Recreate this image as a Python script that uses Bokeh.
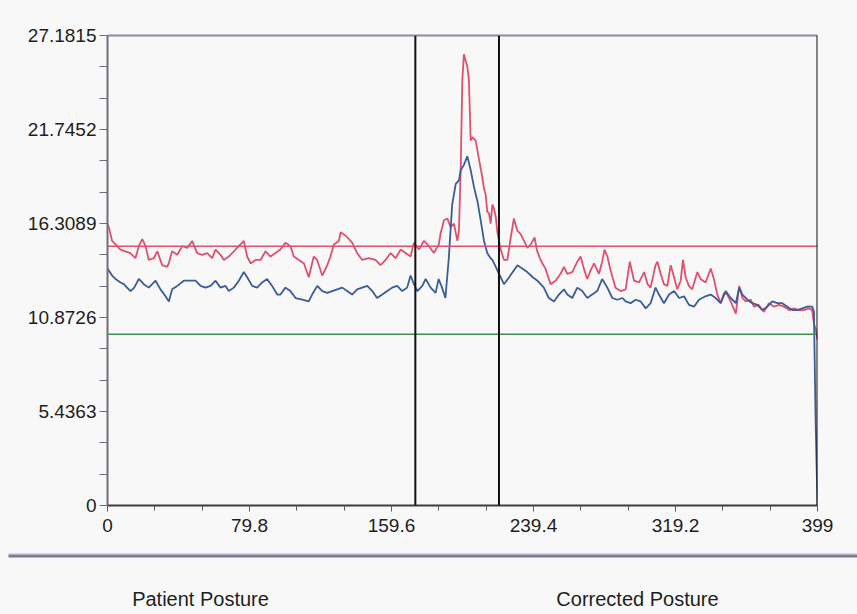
from bokeh.plotting import figure
from bokeh.models import Range1d, FixedTicker, LinearAxis, Span, Label
from bokeh.layouts import column
from bokeh.embed import file_html
from bokeh.resources import INLINE

# ---------------- data ----------------
y_ticks = [0, 5.4363, 10.8726, 16.3089, 21.7452, 27.1815]
y_labels = ["0", "5.4363", "10.8726", "16.3089", "21.7452", "27.1815"]
x_ticks = [0, 79.8, 159.6, 239.4, 319.2, 399]
x_labels = ["0", "79.8", "159.6", "239.4", "319.2", "399"]

red_x = [0, 1, 2.6, 4.5, 7.3, 10, 12.8, 15.7, 17.6, 19.5, 21.4, 23.2, 26, 28, 30.7, 33.5, 34.4, 36.3,
         39.2, 42, 44.8, 47.6, 50.4, 53.2, 56, 58.8, 60.7, 63.5, 65.4, 68.2, 71, 74.7, 76.6, 78.5,
         80.4, 83.2, 86, 88.8, 91.6, 94.4, 97.2, 100, 102.8, 104.7, 107.6, 110.4, 113.1, 115.9, 117.8,
         120.7, 123.5, 125.3, 127.2, 130, 131, 133.9, 137.5, 140.3, 143.1, 146.9, 150.6, 153.4, 156.3,
         159.1, 161.9, 164.7, 167.5, 170.3, 172.2, 175, 177.8, 180.6, 183.4, 186.2, 187.1, 189.1, 191,
         192.8, 194.7, 196.6, 197.5, 198.5, 199.4, 200.3, 201.3, 202.2, 203.1, 204.1, 205, 206.9, 208.8,
         210.6, 211.6, 212.5, 213.4, 214.4, 215.3, 216.3, 217.1, 218.2, 219.1, 220, 221, 222.8, 224.7,
         226.6, 228.4, 230.3, 232.2, 234.1, 236, 237.9, 240, 241.5, 243.4, 246.1, 249, 251.8, 254.6,
         256.5, 258.4, 261.2, 264, 265.9, 267.7, 269.6, 271.5, 273.4, 276.2, 278, 279.3, 280.9, 282.7,
         285.5, 288.4, 291.2, 293.5, 295.9, 298.7, 301.6, 303.5, 305.2, 308, 309, 310.9, 312.7, 314.6,
         316.5, 318.4, 320.2, 322.1, 323.4, 324.9, 326.7, 328.6, 331.5, 333.3, 336.1, 339, 340.8, 342.7,
         344.6, 346.5, 348.3, 350.2, 353.1, 355, 356.8, 358.7, 361.4, 363.3, 366, 368.9, 371.7, 374.6,
         377.4, 380.2, 383, 385.8, 388.6, 391.4, 394.2, 396, 397, 398, 399]
red_y = [16.3, 16.0, 15.3, 15.1, 14.8, 14.7, 14.6, 14.3, 15.0, 15.4, 15.0, 14.2, 14.3, 14.7, 13.9, 13.8, 14.0, 14.7,
         14.5, 15.0, 14.9, 15.3, 14.6, 14.5, 14.6, 14.3, 14.8, 14.5, 14.2, 14.4, 14.7, 15.1, 15.3, 14.4,
         14.0, 14.2, 14.2, 14.7, 14.4, 14.6, 14.8, 15.2, 15.0, 14.4, 14.2, 14.0, 13.2, 14.4, 14.2,
         13.3, 13.9, 14.4, 15.1, 15.3, 15.8, 15.6, 15.2, 14.6, 14.2, 14.3, 14.2, 13.9, 14.2,
         14.6, 14.3, 14.8, 14.6, 14.4, 15.2, 14.8, 15.3, 15.0, 14.6, 15.1, 15.7, 16.5, 16.6,
         16.1, 16.3, 15.3, 15.9, 19.5, 24.6, 26.1, 25.7, 25.4, 24.6, 21.1, 21.3, 21.1, 20.0,
         19.0, 18.3, 18.0, 17.0, 16.9, 16.3, 17.4, 17.2, 16.7, 15.8, 15.3, 14.8, 14.2, 14.2,
         15.5, 16.6, 15.9, 15.7, 15.3, 14.9, 15.1, 15.5, 14.7, 14.2, 13.7, 12.8, 13.0, 13.4,
         13.8, 13.4, 13.5, 14.1, 14.4, 13.7, 13.1, 13.6, 14.0, 13.4, 14.1, 14.8, 14.4, 13.6,
         12.6, 12.4, 12.5, 14.1, 13.0, 12.9, 13.5, 12.8, 12.6, 13.9, 14.1, 13.4, 12.8, 12.7,
         13.9, 13.2, 12.5, 13.0, 14.2, 13.2, 12.7, 12.5, 13.5, 13.1, 12.9, 13.7, 13.1, 12.2,
         11.7, 12.3, 12.2, 11.8, 11.1, 12.7, 12.0, 11.8, 11.9, 11.5, 11.6, 11.2, 11.7, 11.5,
         11.6, 11.5, 11.3, 11.4, 11.3, 11.3, 11.4, 11.3, 10.5, 10.2, 9.6]

blue_x = [0, 2.6, 4.5, 7.3, 9.2, 11, 13, 15, 17.6, 20.4, 23.2, 27, 29.8, 32.6, 34.5, 36.3, 39.2, 42.9,
          46.7, 49.5, 52.3, 55.1, 57.9, 60.7, 63.5, 66.3, 68.2, 71, 73.8, 76.6, 78.5, 81.3, 84.1, 86.9,
          89.7, 92.5, 95.4, 97.2, 100, 102.8, 105.7, 109.5, 113.1, 115, 117.9, 120.7, 123.5, 126.3,
          129.1, 131.9, 134.7, 137.5, 140.3, 143.1, 146, 148.8, 151.5, 154.4, 157.2, 160, 162.8, 165.6,
          168.4, 170.3, 172.2, 174.1, 176.9, 178.8, 181.6, 184.4, 186.1, 188, 189.9, 191.8, 193.7,
          195.7, 197.5, 198.5, 200.3, 202.2, 204.1, 206, 207.9, 209.7, 211.6, 213.4, 215.3, 216.3,
          218.2, 220, 221, 222.8, 225.7, 228.4, 230.4, 233.1, 235.9, 239, 241.6, 245.2, 248, 250.9,
          253.7, 256.5, 258.4, 261.2, 264, 266.8, 269.6, 272.4, 275.2, 278, 280.9, 283.7, 286.5,
          289.4, 291.2, 294, 296.8, 299.6, 302.5, 305.2, 308, 309.9, 312.7, 315.6, 318.4, 321.2, 324,
          326.8, 329.6, 332.4, 336, 339, 341.8, 344.6, 347.4, 350.2, 353.1, 355, 356.8, 359.6, 362.4,
          365.2, 368, 370.8, 373.6, 376.4, 379.2, 382, 384.8, 387.6, 390.5, 393.3, 396, 397, 398, 399]
blue_y = [13.7, 13.3, 13.1, 12.9, 12.8, 12.6, 12.4, 12.6, 13.1, 12.8, 12.6, 13.0, 12.5, 12.1, 11.8, 12.5, 12.7, 13.0,
          13.0, 13.0, 12.7, 12.6, 12.7, 13.0, 12.6, 12.7, 12.4, 12.6, 13.0, 13.5, 13.2, 12.7, 12.6, 12.9,
          13.1, 12.7, 12.2, 12.2, 12.6, 12.4, 12.0, 11.9, 11.8, 12.2, 12.7, 12.4, 12.3, 12.4,
          12.5, 12.6, 12.4, 12.2, 12.5, 12.6, 12.7, 12.4, 12.0, 12.2, 12.4, 12.6, 12.7, 12.4,
          12.6, 13.3, 12.8, 12.4, 12.7, 13.1, 12.6, 12.3, 13.1, 12.6, 12.0, 14.3, 17.4,
          18.6, 18.8, 19.4, 19.7, 20.2, 19.4, 18.4, 17.6, 16.5, 15.3, 14.6, 14.3, 14.2,
          13.8, 13.4, 13.2, 12.8, 13.2, 13.6, 13.9, 13.7, 13.5, 13.2, 13.0, 12.6, 12.0, 11.8,
          12.2, 12.5, 12.2, 12.0, 12.6, 12.4, 12.0, 12.2, 12.4, 13.1, 12.6, 12.0, 11.9,
          12.0, 11.8, 11.7, 11.9, 11.8, 11.4, 11.7, 12.6, 12.2, 11.7, 12.2, 12.4, 12.0, 12.1,
          11.6, 11.5, 11.9, 12.1, 12.2, 12.0, 11.7, 12.4, 12.0, 11.7, 12.6, 12.2, 11.9, 11.7,
          11.6, 11.3, 11.5, 11.8, 11.7, 11.7, 11.5, 11.3, 11.3, 11.4, 11.5, 11.5, 11.2, 4.6, 0]

red_ref = 15.0
green_ref = 9.9
markers = [173, 220, 399]
bottom_labels = ["Patient Posture", "Corrected Posture"]

# ---------------- styles ----------------
BG = "#f8f8f8"
FONT = "Liberation Sans"
RED = "#e0506e"
BLUE = "#3b5c98"
GREEN = "#3f8f52"

p = figure(width=857, height=552, output_backend="svg", toolbar_location=None,
           x_range=Range1d(0, 399), y_range=Range1d(0, 27.1815),
           min_border_left=107, min_border_right=40, min_border_top=35, min_border_bottom=47,
           background_fill_color=BG, border_fill_color=BG, x_axis_type=None, y_axis_type=None)
p.frame_align = False
p.outline_line_color = None
p.xgrid.visible = False
p.ygrid.visible = False

def minor(ticks):
    out = []
    for a, b in zip(ticks[:-1], ticks[1:]):
        step = (b - a) / 3
        out += [a + step, a + 2 * step]
    return out

yax = LinearAxis(ticker=FixedTicker(ticks=y_ticks, minor_ticks=minor(y_ticks)),
                 major_label_overrides={t: l for t, l in zip(y_ticks, y_labels)})
yax.axis_line_color = "#6e6e7a"
yax.axis_line_width = 2
yax.major_tick_in = 0
yax.major_tick_out = 8
yax.minor_tick_in = 0
yax.minor_tick_out = 8
yax.major_tick_line_color = "#6e6e7a"
yax.minor_tick_line_color = "#6e6e7a"
yax.major_label_text_font = FONT
yax.major_label_text_font_size = "19px"
yax.major_label_text_color = "#1e1e1e"
yax.major_label_standoff = 3
p.add_layout(yax, "left")

xax = LinearAxis(ticker=FixedTicker(ticks=x_ticks, minor_ticks=minor(x_ticks)),
                 major_label_overrides={t: l for t, l in zip(x_ticks, x_labels)})
xax.axis_line_color = "#3c3c44"
xax.axis_line_width = 2
xax.major_tick_in = 0
xax.major_tick_out = 6
xax.minor_tick_in = 0
xax.minor_tick_out = 5
xax.major_tick_line_color = "#5a5a64"
xax.minor_tick_line_color = "#5a5a64"
xax.major_label_text_font = FONT
xax.major_label_text_font_size = "19px"
xax.major_label_text_color = "#1e1e1e"
xax.major_label_standoff = 7
p.add_layout(xax, "below")

top = LinearAxis(ticker=FixedTicker(ticks=[]), major_label_text_font_size="0px")
top.axis_line_color = "#8a8aa8"
top.axis_line_width = 2
top.major_tick_line_color = None
top.minor_tick_line_color = None
p.add_layout(top, "above")

p.add_layout(Span(location=red_ref, dimension="width", line_color=RED, line_width=1.5))
p.add_layout(Span(location=green_ref, dimension="width", line_color=GREEN, line_width=1.5))

p.line(red_x, red_y, line_color=RED, line_width=1.8)
p.line(blue_x, blue_y, line_color=BLUE, line_width=1.8)

for m in markers:
    p.add_layout(Span(location=m, dimension="height", line_color="#111111", line_width=2))

# bottom strip with separator and captions (pixel space of the strip)
q = figure(width=857, height=62, output_backend="svg", toolbar_location=None,
           x_range=Range1d(0, 857), y_range=Range1d(0, 62),
           min_border=0, background_fill_color=BG, border_fill_color=BG,
           x_axis_type=None, y_axis_type=None)
q.frame_align = False
q.outline_line_color = None
q.xgrid.visible = False
q.ygrid.visible = False
q.line([8, 857], [58.5, 58.5], line_color="#7a7a9c", line_width=3)
q.line([8, 857], [60.5, 60.5], line_color="#b4b4c8", line_width=1)
for lab, lx in zip(bottom_labels, [200, 637]):
    q.add_layout(Label(x=lx, y=16, text=lab, text_align="center", text_baseline="middle",
                       text_font=FONT, text_font_size="20px", text_color="#1e1e1e"))

layout = column(p, q, spacing=0, styles={"background-color": BG})
open("out.html", "w").write(file_html(layout, INLINE))
